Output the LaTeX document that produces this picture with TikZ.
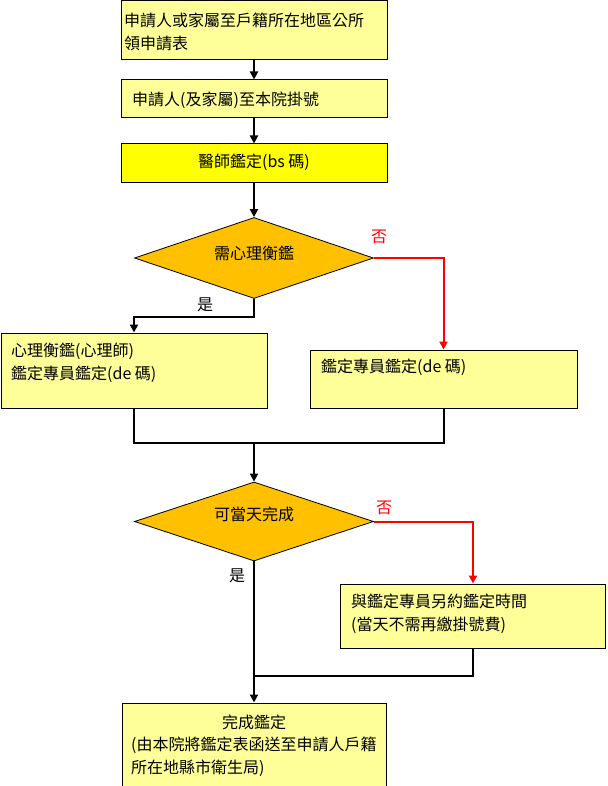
\documentclass[tikz,border=0pt]{standalone}
\usepackage{fontspec}
\setmainfont{Noto Sans CJK TC}
\usetikzlibrary{shapes.geometric,arrows.meta}
\definecolor{lightyel}{HTML}{FFFF99}
\definecolor{brightyel}{HTML}{FFFF00}
\definecolor{gold}{HTML}{FFC000}
\definecolor{noRed}{HTML}{FF0000}
\tikzset{
  box/.style={draw=black,line width=1pt,fill=lightyel,rectangle,inner sep=0pt},
  dia/.style={draw=black,line width=0.8pt,fill=gold,diamond,inner sep=0pt},
  txt/.style={inner sep=0pt,align=left,font=\fontsize{16}{23}\selectfont},
  conn/.style={line width=2pt,draw=black},
  arr/.style={conn,-{Triangle[width=8pt,length=8pt]}},
  redarr/.style={line width=2pt,draw=noRed,-{Triangle[width=8pt,length=8pt]}},
  lab/.style={inner sep=0pt,font=\fontsize{16}{18}\selectfont},
}
\begin{document}
\begin{tikzpicture}[x=1pt,y=-1pt]
\useasboundingbox (0,0) rectangle (607,786);
% boxes
\node[box,minimum width=266pt,minimum height=59pt] (b1) at (254,30.5) {};
\node[box,minimum width=266pt,minimum height=38pt] (b2) at (254,99) {};
\node[box,fill=brightyel,minimum width=266pt,minimum height=39pt] (b3) at (254,163.5) {};
\node[dia,minimum width=239pt,minimum height=81pt] (d1) at (254,258) {};
\node[box,minimum width=266pt,minimum height=75pt] (L) at (134,370.5) {};
\node[box,minimum width=267pt,minimum height=58pt] (R) at (443.5,379) {};
\node[dia,minimum width=239pt,minimum height=79pt] (d2) at (254,521.5) {};
\node[box,minimum width=265pt,minimum height=64pt] (R2) at (473,616) {};
\node[box,minimum width=264pt,minimum height=89pt] (F) at (254,747.5) {};
% texts
\node[txt,anchor=west] (t1) at (124,31.5) {申請人或家屬至戶籍所在地區公所\\領申請表};
\node[txt,anchor=west] (t2) at (132,100) {申請人(及家屬)至本院掛號};
\node[txt] (t3) at (254,162) {醫師鑑定(bs 碼)};
\node[txt] (t4) at (254,253) {需心理衡鑑};
\node[txt,anchor=west] (t5) at (11,363) {心理衡鑑(心理師)\\鑑定專員鑑定(de 碼)};
\node[txt,anchor=west] (t6) at (321,367) {鑑定專員鑑定(de 碼)};
\node[txt] (t7) at (254,514) {可當天完成};
\node[txt,anchor=west] (t8) at (351,613.5) {與鑑定專員另約鑑定時間\\(當天不需再繳掛號費)};
\node[txt] (t9) at (254,722) {完成鑑定};
\node[txt,anchor=west] (t10) at (131,757) {(由本院將鑑定表函送至申請人戶籍\\所在地縣市衛生局)};
% labels
\node[lab,text=noRed] (no1) at (379,237) {否};
\node[lab] (yes1) at (205,305) {是};
\node[lab,text=noRed] (no2) at (384,508) {否};
\node[lab] (yes2) at (237,576) {是};
% junctions
\coordinate (k1) at (254,317);
\coordinate (j1) at (254,443);
\coordinate (j2) at (254,676);
% connectors
\draw[arr] (b1.south) -- (b2.north);
\draw[arr] (b2.south) -- (b3.north);
\draw[arr] (b3.south) -- (d1.north);
\draw[redarr] (d1.east) -| (R.north);
\draw[arr] (d1.south) -- (k1) -| (L.north);
\draw[conn] (L.south) |- (j1) -| (R.south);
\draw[arr] (j1) -- (d2.north);
\draw[redarr] (d2.east) -| (R2.north);
\draw[arr] (d2.south) -- (F.north);
\draw[conn] (R2.south) |- (j2);
\end{tikzpicture}
\end{document}
